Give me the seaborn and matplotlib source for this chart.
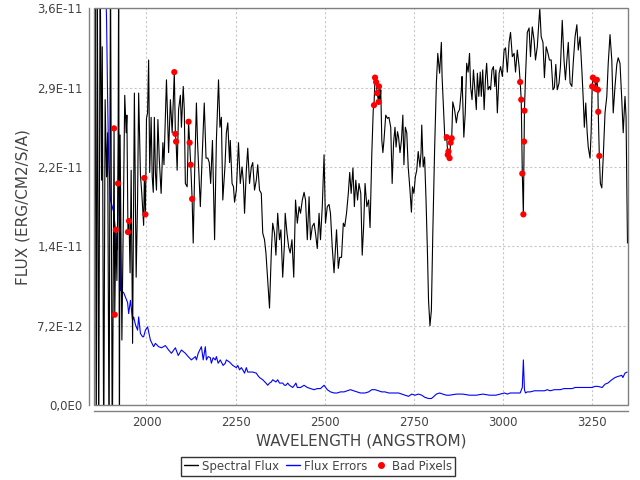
import numpy as np
import pandas as pd
import matplotlib
matplotlib.use("Agg")
import matplotlib.pyplot as plt
from matplotlib.lines import Line2D
from matplotlib.patches import Rectangle
import seaborn as sns

# spectral flux (wavelength in Angstrom, flux in 1e-12 erg/cm2/s/A)
flux_wave = [
    1853, 1856, 1859, 1862, 1866, 1870, 1874, 1876, 1880, 1884, 1888, 1891, 1895, 1899, 1904,
    1909, 1911, 1914, 1917, 1920, 1922, 1924, 1926, 1931, 1939, 1943, 1945, 1948, 1951, 1954,
    1957, 1961, 1966, 1971, 1975, 1978, 1983, 1987, 1992, 1994, 1997, 2000, 2003, 2006, 2009,
    2013, 2016, 2019, 2022, 2025, 2028, 2032, 2036, 2041, 2046, 2049, 2056, 2062, 2067, 2072,
    2078, 2081, 2083, 2086, 2090, 2095, 2098, 2103, 2106, 2109, 2114, 2118, 2121, 2124, 2128,
    2131, 2135, 2140, 2143, 2147, 2151, 2156, 2162, 2167, 2172, 2176, 2180, 2185, 2191, 2196,
    2202, 2206, 2210, 2214, 2220, 2224, 2228, 2233, 2235, 2240, 2244, 2247, 2252, 2258, 2263,
    2268, 2272, 2275, 2280, 2284, 2289, 2294, 2298, 2303, 2308, 2312, 2317, 2322, 2326, 2331,
    2335, 2340, 2345, 2350, 2354, 2359, 2363, 2368, 2373, 2377, 2382, 2387, 2389, 2394, 2399,
    2403, 2408, 2413, 2418, 2423, 2428, 2432, 2437, 2442, 2446, 2451, 2456, 2460, 2465, 2470,
    2474, 2479, 2484, 2488, 2493, 2498, 2502, 2507, 2512, 2516, 2521, 2526, 2530, 2533, 2538,
    2542, 2547, 2552, 2556, 2561, 2566, 2570, 2574, 2579, 2583, 2587, 2592, 2596, 2601, 2605,
    2609, 2613, 2618, 2623, 2627, 2632, 2636, 2638, 2641, 2644, 2647, 2651, 2652, 2655, 2657,
    2660, 2663, 2666, 2671, 2676, 2680, 2685, 2689, 2693, 2697, 2700, 2704, 2707, 2711, 2715,
    2719, 2722, 2726, 2730, 2734, 2739, 2743, 2746, 2750, 2754, 2758, 2762, 2767, 2770, 2772,
    2776, 2780, 2784, 2788, 2791, 2795, 2799, 2803, 2808, 2813, 2817, 2822, 2827, 2829, 2833,
    2837, 2842, 2845, 2847, 2850, 2853, 2856, 2859, 2864, 2869, 2873, 2878, 2883, 2885, 2890,
    2894, 2898, 2902, 2906, 2909, 2913, 2917, 2921, 2925, 2928, 2932, 2936, 2939, 2943, 2947,
    2951, 2954, 2958, 2962, 2965, 2969, 2973, 2977, 2980, 2984, 2989, 2993, 2998, 3003, 3007,
    3012, 3017, 3021, 3026, 3031, 3035, 3040, 3045, 3048, 3051, 3054, 3057, 3059, 3060, 3063,
    3068, 3073, 3077, 3082, 3087, 3091, 3096, 3101, 3103, 3107, 3112, 3116, 3121, 3126, 3130,
    3135, 3140, 3144, 3148, 3152, 3157, 3161, 3166, 3171, 3175, 3179, 3183, 3188, 3193, 3197,
    3202, 3207, 3211, 3216, 3221, 3225, 3228, 3232, 3236, 3239, 3244, 3247, 3250, 3252, 3258,
    3259, 3263, 3266, 3267, 3270, 3273, 3277, 3281, 3286, 3291, 3295, 3300, 3305, 3309, 3314,
    3319, 3323, 3328, 3333, 3337, 3342, 3345, 3349,
]
flux_val = [
    3.8, 40.4, -5.0, 40.4, -5.0, 40.4, 20.4, 32.5, -5.0, 27.7, 20.7, 24.7, -5.0, 40.4, -5.0,
    25.1, 8.2, 15.9, 11.3, 20.1, 40.4, -5.0, 24.5, 5.9, 28.1, 24.7, 26.3, 15.7, 16.7, 12.0,
    21.3, 5.6, 28.3, 11.6, 18.6, 28.3, 20.9, 19.1, 16.3, 20.6, 17.3, 26.0, 26.5, 31.3, 21.1,
    26.1, 20.7, 19.3, 26.1, 21.1, 19.5, 25.9, 22.2, 19.2, 23.8, 21.8, 29.5, 22.9, 27.7, 24.7,
    30.2, 24.6, 23.9, 21.3, 26.8, 28.1, 25.2, 28.9, 26.8, 20.1, 19.8, 25.7, 23.8, 21.8, 18.7,
    14.7, 21.1, 27.4, 24.0, 21.1, 18.0, 22.4, 27.4, 22.4, 22.4, 22.0, 20.1, 24.0, 15.0, 24.0,
    29.5, 25.2, 26.1, 18.6, 21.6, 24.7, 25.6, 22.0, 24.0, 20.1, 19.8, 18.4, 19.5, 23.8, 20.1,
    21.6, 20.1, 17.4, 21.3, 23.3, 20.1, 21.6, 22.0, 19.5, 20.4, 21.8, 19.5, 19.2, 15.6, 15.0,
    13.8, 11.3, 8.8, 13.8, 16.5, 15.6, 13.6, 17.4, 15.0, 15.9, 11.6, 14.7, 17.4, 15.6, 14.3,
    13.8, 15.0, 11.6, 18.6, 16.5, 18.0, 17.4, 18.6, 19.3, 18.6, 15.0, 18.9, 15.0, 16.2, 16.5,
    15.6, 14.2, 17.4, 15.0, 18.0, 22.7, 16.5, 18.0, 18.2, 17.4, 14.3, 12.0, 14.3, 15.9, 12.4,
    13.4, 13.4, 16.5, 16.2, 17.4, 19.2, 21.1, 19.2, 21.5, 18.0, 20.4, 18.6, 20.1, 19.2, 13.6,
    16.2, 20.1, 18.0, 18.6, 16.1, 22.9, 26.8, 27.2, 29.7, 29.3, 28.3, 27.5, 28.9, 27.4, 28.6,
    24.0, 22.9, 24.0, 26.3, 26.0, 26.1, 25.2, 20.1, 23.8, 25.2, 23.4, 24.8, 24.3, 22.9, 24.0,
    26.3, 21.8, 25.2, 24.7, 21.6, 19.5, 17.5, 19.8, 19.2, 20.7, 21.3, 23.0, 21.6, 22.9, 25.4,
    21.6, 22.5, 18.6, 13.8, 9.5, 7.2, 8.6, 15.6, 23.1, 29.2, 31.9, 30.1, 32.9, 29.8, 26.8,
    24.0, 24.3, 22.7, 23.0, 22.4, 23.8, 24.2, 27.5, 26.8, 25.6, 26.5, 26.8, 28.6, 29.8, 24.3,
    26.5, 31.0, 30.2, 31.9, 28.9, 27.7, 30.4, 28.6, 26.8, 30.1, 28.0, 30.2, 28.0, 30.4, 26.8,
    29.8, 31.0, 28.6, 28.9, 28.6, 30.4, 30.7, 28.9, 30.4, 26.5, 30.1, 30.7, 29.8, 32.2, 32.4,
    30.2, 32.9, 33.8, 31.6, 31.9, 30.2, 32.2, 30.7, 29.3, 27.7, 21.0, 17.3, 23.9, 26.7, 29.8,
    33.8, 34.2, 31.6, 34.3, 33.1, 31.3, 32.5, 34.9, 36.0, 33.4, 32.9, 29.7, 32.5, 31.9, 31.3,
    31.3, 28.6, 28.8, 30.9, 28.6, 29.2, 30.7, 34.9, 31.3, 29.5, 31.3, 32.9, 29.2, 28.9, 31.1,
    33.4, 34.5, 32.2, 33.4, 30.4, 27.7, 25.2, 27.4, 24.7, 23.4, 22.4, 24.7, 28.9, 29.7, 29.5,
    28.7, 29.5, 28.6, 26.6, 22.6, 20.1, 19.7, 22.5, 26.5, 28.0, 31.0, 33.6, 31.3, 26.5, 28.9,
    30.9, 31.5, 31.0, 27.7, 24.7, 28.0, 26.1, 14.7,
]

# flux errors
err_wave = [
    1883, 1888, 1891, 1894, 1899, 1908, 1913, 1918, 1922, 1925, 1927, 1936, 1941, 1947, 1950,
    1955, 1961, 1964, 1969, 1975, 1978, 1983, 1989, 1992, 1997, 2003, 2011, 2020, 2025, 2034,
    2042, 2053, 2062, 2070, 2081, 2089, 2098, 2109, 2117, 2126, 2137, 2140, 2145, 2154, 2159,
    2165, 2168, 2173, 2179, 2182, 2187, 2193, 2196, 2201, 2207, 2210, 2215, 2221, 2224, 2233,
    2242, 2252, 2256, 2261, 2266, 2270, 2275, 2280, 2284, 2289, 2298, 2308, 2312, 2317, 2326,
    2335, 2340, 2345, 2350, 2354, 2363, 2368, 2373, 2382, 2387, 2391, 2396, 2401, 2410, 2415,
    2419, 2423, 2432, 2442, 2451, 2460, 2470, 2479, 2488, 2498, 2507, 2516, 2526, 2535, 2544,
    2554, 2563, 2572, 2581, 2591, 2600, 2609, 2613, 2623, 2632, 2641, 2651, 2660, 2669, 2679,
    2688, 2707, 2725, 2735, 2744, 2753, 2763, 2772, 2781, 2791, 2799, 2803, 2813, 2822, 2831,
    2841, 2850, 2869, 2887, 2906, 2925, 2943, 2962, 2980, 2992, 3004, 3012, 3020, 3032, 3040,
    3048, 3054, 3057, 3060, 3063, 3068, 3076, 3088, 3096, 3104, 3116, 3124, 3132, 3144, 3152,
    3160, 3171, 3180, 3194, 3202, 3211, 3222, 3230, 3238, 3250, 3258, 3266, 3278, 3286, 3294,
    3305, 3314, 3322, 3333, 3336, 3342, 3348,
]
err_val = [
    41.3, 34.9, 27.7, 22.2, 18.6, 17.5, 15.9, 14.1, 24.7, 18.6, 10.4, 10.2, 9.8, 9.3, 8.3,
    9.5, 7.7, 8.0, 7.3, 6.8, 8.0, 6.5, 6.2, 6.2, 6.8, 7.1, 5.9, 5.3, 5.6, 5.3,
    5.2, 5.4, 5.0, 4.7, 5.2, 4.5, 5.0, 4.7, 4.4, 4.1, 4.4, 4.1, 4.7, 5.3, 4.1,
    5.3, 4.1, 4.4, 4.3, 3.8, 4.3, 4.1, 4.4, 3.8, 4.1, 3.9, 3.6, 3.8, 4.1, 3.9,
    3.6, 3.4, 3.6, 3.2, 3.4, 3.2, 2.9, 3.4, 3.0, 3.0, 3.0, 2.9, 2.7, 2.5, 2.3,
    2.0, 1.8, 2.0, 2.1, 2.3, 2.1, 2.3, 2.0, 2.0, 1.8, 1.8, 2.0, 1.8, 1.6, 1.8,
    2.0, 1.6, 1.6, 1.8, 1.6, 1.5, 1.4, 1.5, 1.5, 1.8, 1.4, 1.2, 1.1, 1.1, 1.2,
    1.2, 1.3, 1.4, 1.3, 1.2, 1.1, 1.1, 1.1, 1.2, 1.4, 1.4, 1.3, 1.2, 1.2, 1.1,
    1.1, 1.1, 0.9, 0.8, 1.0, 0.9, 1.0, 0.9, 0.7, 0.6, 0.6, 0.7, 1.0, 1.1, 1.0,
    0.9, 0.9, 1.0, 1.0, 0.9, 0.9, 1.0, 0.9, 0.9, 1.0, 1.1, 1.0, 1.1, 1.1, 1.1,
    1.1, 1.6, 4.1, 1.4, 1.1, 1.2, 1.2, 1.3, 1.3, 1.3, 1.3, 1.4, 1.3, 1.4, 1.4,
    1.4, 1.5, 1.5, 1.5, 1.6, 1.6, 1.6, 1.6, 1.6, 1.6, 1.7, 1.7, 1.6, 1.9, 2.0,
    2.3, 2.5, 2.6, 2.7, 2.5, 2.9, 3.0,
]

# bad pixels
bad_wave = [
    1909, 1911, 1914, 1920, 1948, 1951, 1994, 1997,
    2078, 2081, 2083, 2118, 2121, 2124, 2128,
    2638, 2641, 2644, 2647, 2651, 2652,
    2842, 2845, 2847, 2850, 2853, 2856,
    3048, 3051, 3054, 3057, 3059, 3060,
    3250, 3252, 3258, 3259, 3263, 3266, 3267, 3270,
]
bad_val = [
    25.1, 8.2, 15.9, 20.1, 15.7, 16.7, 20.6, 17.3,
    30.2, 24.6, 23.9, 25.7, 23.8, 21.8, 18.7,
    27.2, 29.7, 29.3, 28.3, 27.5, 28.9,
    24.3, 22.7, 23.0, 22.4, 23.8, 24.2,
    29.3, 27.7, 21.0, 17.3, 23.9, 26.7,
    28.9, 29.7, 29.5, 28.7, 29.5, 28.6, 26.6, 22.6,
]

y_ticks = [0, 7.2e-12, 1.44e-11, 2.16e-11, 2.88e-11, 3.6e-11]
y_tick_labels = ["0,0E0", "7,2E-12", "1,4E-11", "2,2E-11", "2,9E-11", "3,6E-11"]
x_ticks = [2000, 2250, 2500, 2750, 3000, 3250]

df_flux = pd.DataFrame({"wave": flux_wave, "flux": np.array(flux_val) * 1e-12})
df_err = pd.DataFrame({"wave": err_wave, "flux": np.array(err_val) * 1e-12})
df_bad = pd.DataFrame({"wave": bad_wave, "flux": np.array(bad_val) * 1e-12})

sns.set_style("white")
plt.rcParams["font.family"] = ["DejaVu Sans"]

fig = plt.figure(figsize=(6.4, 4.8), dpi=100)
ax = fig.add_axes([0.147, 0.156, 0.834, 0.827])

sns.lineplot(data=df_flux, x="wave", y="flux", ax=ax, color="black", lw=0.8,
             estimator=None, sort=False, zorder=3)
sns.lineplot(data=df_err, x="wave", y="flux", ax=ax, color="blue", lw=0.8,
             estimator=None, sort=False, zorder=2)
sns.scatterplot(data=df_bad, x="wave", y="flux", ax=ax, color="red", s=20,
                edgecolor="none", zorder=4)

ax.set_xlim(1853, 3350)
ax.set_ylim(0, 3.6e-11)
ax.set_xticks(x_ticks)
ax.set_yticks(y_ticks)
ax.set_yticklabels(y_tick_labels)
ax.grid(True, color="#c8c8c8", ls=(0, (2, 2)), lw=0.8)
ax.set_axisbelow(True)

# offset axis lines like the original (JFreeChart style) plus a plot frame
for side in ["top", "right"]:
    ax.spines[side].set_visible(False)
for side in ["left", "bottom"]:
    ax.spines[side].set_position(("outward", 4))
    ax.spines[side].set_color("#808080")
    ax.spines[side].set_linewidth(1.0)
ax.add_patch(Rectangle((0, 0), 1, 1, transform=ax.transAxes, fill=False,
                       ec="#808080", lw=1.0, clip_on=False, zorder=5))

ax.tick_params(axis="both", colors="#808080", labelcolor="#444444", labelsize=8.5,
               length=2, width=0.8, direction="out", pad=2)
ax.set_xlabel("WAVELENGTH (ANGSTROM)", fontsize=11, color="#444444", labelpad=3)
ax.set_ylabel("FLUX (ERG/CM2/S/A)", fontsize=11, color="#444444", labelpad=5)

handles = [
    Line2D([], [], color="black", lw=1.0),
    Line2D([], [], color="blue", lw=1.0),
    Line2D([], [], color="red", marker="o", ls="none", markersize=4),
]
leg = fig.legend(handles, ["Spectral Flux", "Flux Errors", "Bad Pixels"],
                 loc="center", bbox_to_anchor=(0.497, 0.029), ncol=3, frameon=True,
                 fancybox=False, edgecolor="black", fontsize=8.5, handlelength=1.2,
                 handletextpad=0.3, columnspacing=0.6, borderpad=0.25)
leg.get_frame().set_linewidth(1.0)
for t in leg.get_texts():
    t.set_color("#444444")

fig.savefig("out.png", dpi=100)
